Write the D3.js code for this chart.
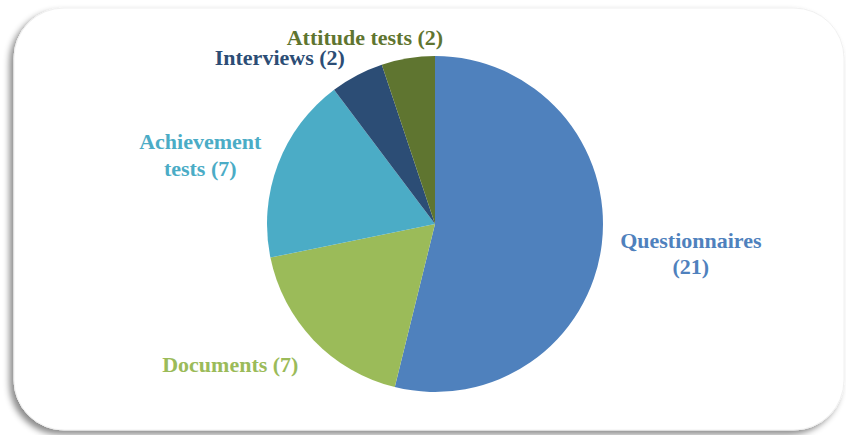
<!DOCTYPE html>
<html>
<head>
<meta charset="utf-8">
<script src="https://cdn.jsdelivr.net/npm/d3@7"></script>
<style>
  body { margin: 0; background: #fff; }
  svg { display: block; }
  .lbl { font-family: "Liberation Serif", "Times New Roman", serif; font-weight: bold; font-size: 22px; }
</style>
</head>
<body>
<svg id="chart" width="846" height="435"></svg>
<script>
// data
const categories = ['Questionnaires', 'Documents', 'Achievement tests', 'Interviews', 'Attitude tests'];
const counts = [21, 7, 7, 2, 2];
const colors = ['#4f81bd', '#9bbb59', '#4bacc6', '#2c4d75', '#5f7530'];
const labelLines = [
  ['Questionnaires', '(21)'],
  ['Documents (7)'],
  ['Achievement', 'tests (7)'],
  ['Interviews (2)'],
  ['Attitude tests (2)']
];

const svg = d3.select('#chart');

// card frame with shadow on left/bottom
const defs = svg.append('defs');
const f = defs.append('filter').attr('id', 'shadow')
  .attr('x', '-5%').attr('y', '-5%').attr('width', '110%').attr('height', '112%');
f.append('feDropShadow').attr('dx', -4).attr('dy', 4).attr('stdDeviation', 3)
  .attr('flood-color', '#000').attr('flood-opacity', 0.45);

svg.append('rect')
  .attr('x', 14).attr('y', 8)
  .attr('width', 830).attr('height', 422)
  .attr('rx', 50).attr('ry', 50)
  .attr('fill', '#fff')
  .attr('stroke', '#f0f0f0')
  .attr('filter', 'url(#shadow)');

const cx = 435, cy = 224, r = 168;

const data = categories.map((c, i) => ({ name: c, value: counts[i], color: colors[i], lines: labelLines[i] }));

const pie = d3.pie().value(d => d.value).sort(null);
const arc = d3.arc().innerRadius(0).outerRadius(r);

const g = svg.append('g').attr('transform', `translate(${cx},${cy})`);
const arcs = pie(data);

g.selectAll('path')
  .data(arcs)
  .join('path')
  .attr('d', arc)
  .attr('fill', d => d.data.color)
  .attr('stroke', 'none');

// labels sit outside the pie, then nudged to where the picture has them
const labelArc = d3.arc().innerRadius(r * 1.45).outerRadius(r * 1.45);
const labelNudge = [[14, 0], [-29, -28], [-7, 17], [-42, 49], [-31, 54]];

const labels = svg.append('g').attr('transform', `translate(${cx},${cy})`);
arcs.forEach((a, i) => {
  let [x, y] = labelArc.centroid(a);
  x += labelNudge[i][0];
  y += labelNudge[i][1];
  const t = labels.append('text')
    .attr('class', 'lbl')
    .attr('text-anchor', 'middle')
    .attr('fill', a.data.color)
    .attr('x', x).attr('y', y);
  const n = a.data.lines.length;
  a.data.lines.forEach((line, j) => {
    t.append('tspan')
      .attr('x', x)
      .attr('dy', j === 0 ? `${0.35 - (n - 1) * 0.6}em` : '1.2em')
      .text(line);
  });
});
</script>
</body>
</html>
